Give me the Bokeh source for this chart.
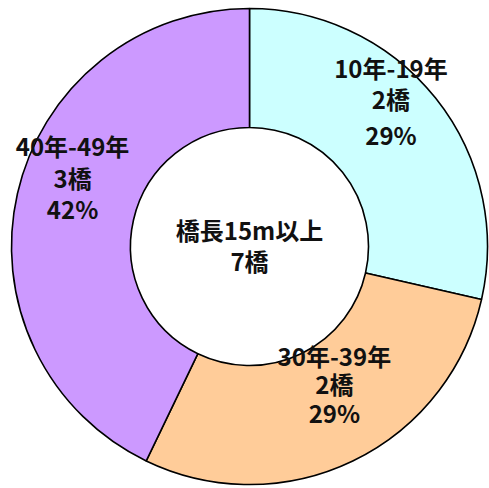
import math
from bokeh.plotting import figure
from bokeh.models import Range1d, ColumnDataSource
from bokeh.core.properties import value
from bokeh.embed import file_html
from bokeh.resources import INLINE

# ---- data ----
categories = ["10年-19年", "30年-39年", "40年-49年"]
counts = [2, 2, 3]
percent_labels = ["29%", "29%", "42%"]
colors = ["#CCFFFF", "#FFCC99", "#CC99FF"]
center_title = "橋長15m以上"
unit = "橋"

# ---- layout ----
W, H = 489, 488
PX, PY = 249, 246          # pixel position of pie centre inside the figure
CX, CY = 0.0, 0.0
R_OUT, R_IN = 238, 119
# label anchor: (angle nudge in degrees relative to slice mid, radius)
label_layout = [(7.8, 205), (6.1, 161), (-8.5, 190)]
row_offsets = [[-31, 0, 36], [-28, 0, 29], [-32, 0, 31]]
FONT = value("Noto Sans CJK JP")
FS = "24px"

p = figure(width=W, height=H, output_backend="svg", toolbar_location=None,
           x_range=Range1d(-PX, W - PX), y_range=Range1d(-(H - PY), PY),
           min_border=0)
p.axis.visible = False
p.grid.visible = False
p.outline_line_color = None
p.background_fill_color = "white"
p.border_fill_color = "white"

total = sum(counts)
starts, ends, mids = [], [], []
acc = 0
for c in counts:
    a0 = math.pi / 2 - 2 * math.pi * acc / total
    acc += c
    a1 = math.pi / 2 - 2 * math.pi * acc / total
    starts.append(a0)
    ends.append(a1)
    mids.append((a0 + a1) / 2)

src = ColumnDataSource(dict(start=starts, end=ends, color=colors,
                            x=[CX] * len(counts), y=[CY] * len(counts)))
p.annular_wedge(x="x", y="y", inner_radius=R_IN, outer_radius=R_OUT,
                start_angle="start", end_angle="end", direction="clock",
                fill_color="color", line_color="black", line_width=1.6,
                source=src)

# slice labels
lx, ly, ltxt, loff = [], [], [], []
for i, cat in enumerate(categories):
    dth, r = label_layout[i]
    ang = mids[i] + math.radians(dth)
    x = CX + r * math.cos(ang)
    y = CY + r * math.sin(ang)
    lines = [cat, f"{counts[i]}{unit}", percent_labels[i]]
    for j, t in enumerate(lines):
        lx.append(x)
        ly.append(y)
        ltxt.append(t)
        loff.append(row_offsets[i][j])

p.text(x=lx, y=ly, text=ltxt, y_offset=loff, text_align="center",
       text_baseline="middle", text_font=FONT, text_font_style="bold",
       text_font_size=FS, text_color="#111111")

# center text
p.text(x=[CX, CX], y=[CY, CY], text=[center_title, f"{total}{unit}"],
       y_offset=[-17, 14], text_align="center", text_baseline="middle",
       text_font=FONT, text_font_style="bold", text_font_size=FS,
       text_color="#111111")

open("out.html", "w").write(file_html(p, INLINE))
